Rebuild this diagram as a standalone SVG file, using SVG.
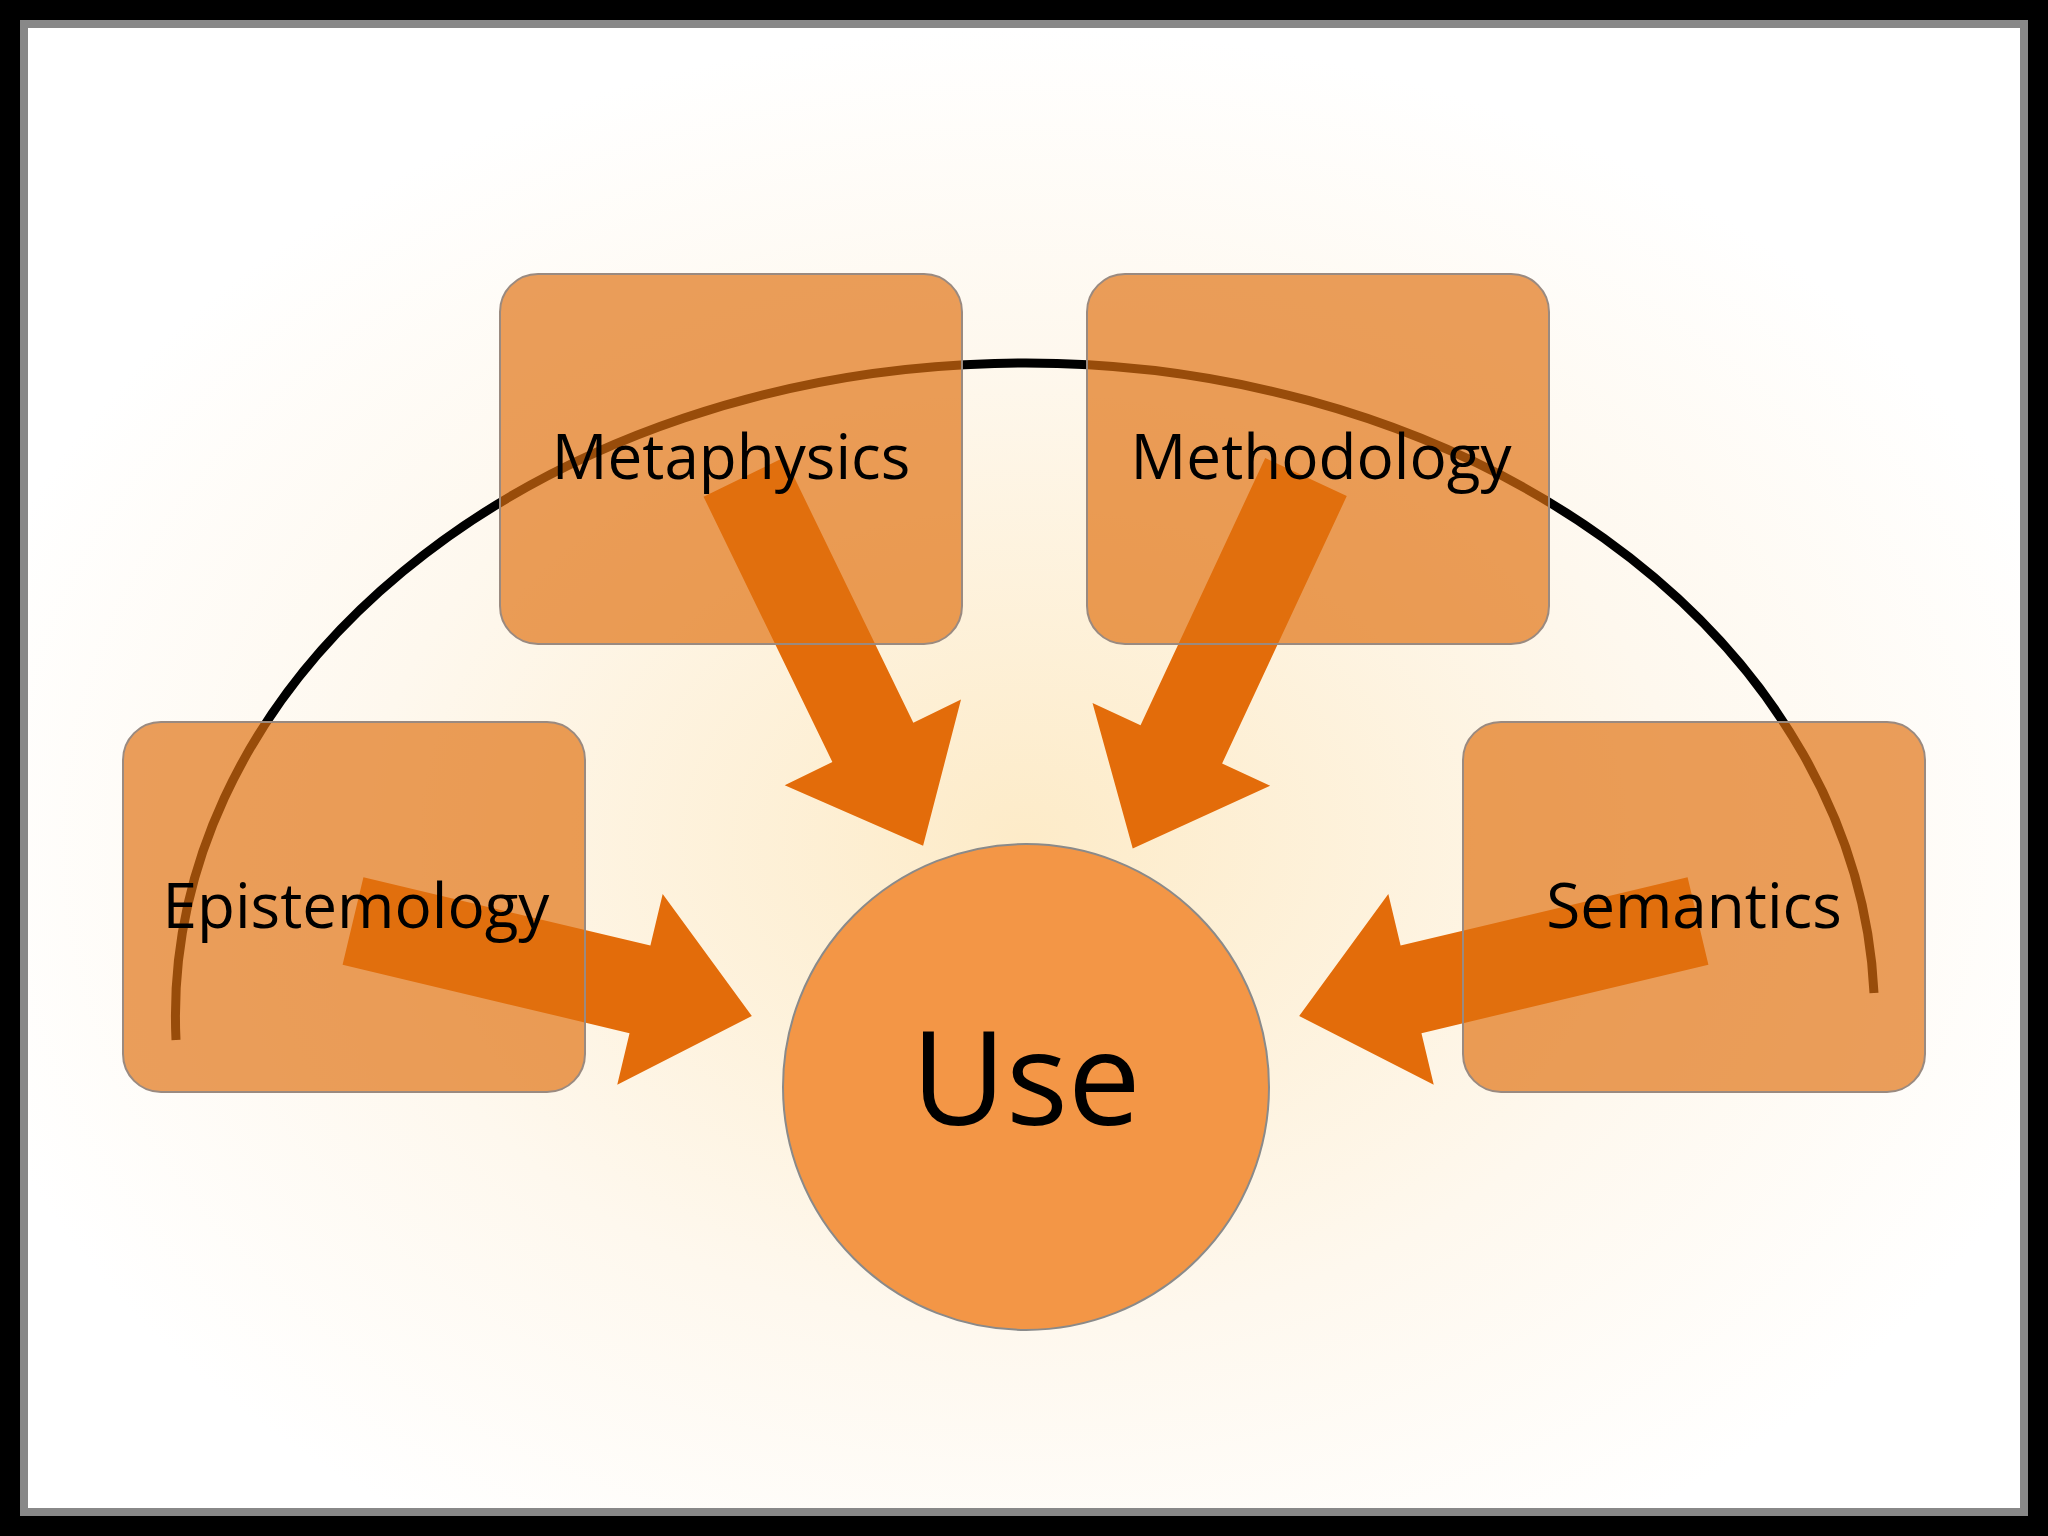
<svg xmlns="http://www.w3.org/2000/svg" width="2048" height="1536" viewBox="0 0 2048 1536">
<defs>
<radialGradient id="glow" cx="50%" cy="55%" r="55%">
<stop offset="0" stop-color="#fdebc8"/>
<stop offset="0.6" stop-color="#fef8ee"/>
<stop offset="1" stop-color="#ffffff"/>
</radialGradient>
<linearGradient id="edge" x1="0" y1="0" x2="1" y2="0"><stop offset="0" stop-color="#000"/><stop offset="1" stop-color="#555"/></linearGradient>
<path id="arr" d="M0,-45 L295,-45 L295,-98 L410,0 L295,98 L295,45 L0,45 Z"/>
</defs>
<style>
.box{fill:#e0700f;fill-opacity:0.68;stroke:#9a8a80;stroke-width:2}
.lbl{font-family:"Open Sans","Liberation Sans",sans-serif;font-size:62px;fill:#000;text-anchor:middle}
.ar{fill:#e36c0a}
</style>
<rect width="2048" height="1536" fill="#000"/>
<rect x="20" y="20" width="2008" height="1496" fill="#888"/>
<rect x="28" y="28" width="1992" height="1480" fill="url(#glow)"/>
<g id="connectors">
<path d="M176,1040 A849,653 0 0 1 1874,993" fill="none" stroke="#000" stroke-width="9"/>
<use href="#arr" class="ar" transform="translate(744,477) rotate(64.1)"/>
<use href="#arr" class="ar" transform="translate(1306,477) rotate(115)"/>
<use href="#arr" class="ar" transform="translate(353,921) rotate(13.4)"/>
<use href="#arr" class="ar" transform="translate(1698,921) rotate(166.6)"/>
</g>
<g id="metaphysics"><rect class="box" x="500" y="274" width="462" height="370" rx="38"/><text class="lbl" x="731" y="479">Metaphysics</text></g>
<g id="methodology"><rect class="box" x="1087" y="274" width="462" height="370" rx="38"/><text class="lbl" x="1321" y="479">Methodology</text></g>
<g id="epistemology"><rect class="box" x="123" y="722" width="462" height="370" rx="38"/><text class="lbl" x="356" y="928">Epistemology</text></g>
<g id="semantics"><rect class="box" x="1463" y="722" width="462" height="370" rx="38"/><text class="lbl" x="1694" y="928">Semantics</text></g>
<g id="use"><circle cx="1026" cy="1087" r="243" fill="#f39646" stroke="#8a8a8a" stroke-width="2"/><text x="1026" y="1125" font-family="'Open Sans','Liberation Sans',sans-serif" font-size="130" text-anchor="middle" fill="#000">Use</text></g>
</svg>
